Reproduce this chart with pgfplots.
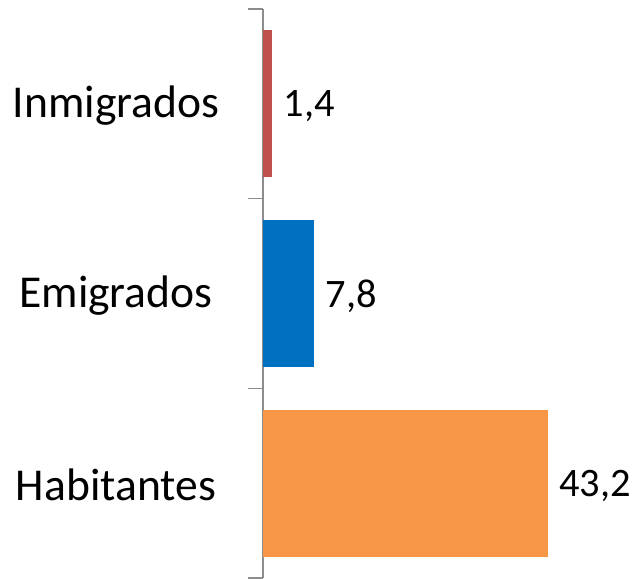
\documentclass[border=0pt]{standalone}
\usepackage{pgfplots}
\pgfplotsset{compat=1.18}
\usepackage{fontspec}
\setmainfont{Carlito}

\definecolor{barred}{HTML}{C0504D}
\definecolor{barblue}{HTML}{0070C0}
\definecolor{barorange}{HTML}{F79646}
\definecolor{axisgray}{HTML}{8C8C8C}

\begin{document}
\begin{tikzpicture}
\begin{axis}[
  name=ax,
  scale only axis,
  width=148.5bp, height=284.5bp,
  xmin=0, xmax=45,
  ymin=-0.5, ymax=2.5,
  axis x line=none,
  axis y line*=left,
  y axis line style={axisgray, line width=0.8bp},
  ytick={0,1,2},
  yticklabels={Habitantes,Emigrados,Inmigrados},
  major tick length=0pt,
  minor ytick={-0.5,0.5,1.5,2.5},
  minor tick length=7.5bp,
  tick align=outside,
  minor tick style={axisgray, line width=0.8bp},
  yticklabel style={anchor=center, xshift=-73.5bp, yshift=-1bp, font=\fontsize{22.8bp}{27bp}\selectfont},
  xbar, bar shift=0pt, bar width=73.5bp,
  nodes near coords,
  every node near coord/.append style={anchor=west, inner sep=0pt, xshift=5.5bp, yshift=-1.2bp,
    font=\fontsize{20.2bp}{24bp}\selectfont, text=black},
  /pgf/number format/.cd, use comma, fixed, fixed zerofill, precision=1, assume math mode=true,
]
\addplot[draw=none, fill=barorange] coordinates {(43.2,0)};
\addplot[draw=none, fill=barblue] coordinates {(7.8,1)};
\addplot[draw=none, fill=barred] coordinates {(1.4,2)};
\end{axis}
\pgfresetboundingbox
\path[use as bounding box] ([xshift=-131.5bp,yshift=-0.5bp]ax.south west) rectangle ([xshift=187bp,yshift=4.5bp]ax.north west);
\end{tikzpicture}
\end{document}
